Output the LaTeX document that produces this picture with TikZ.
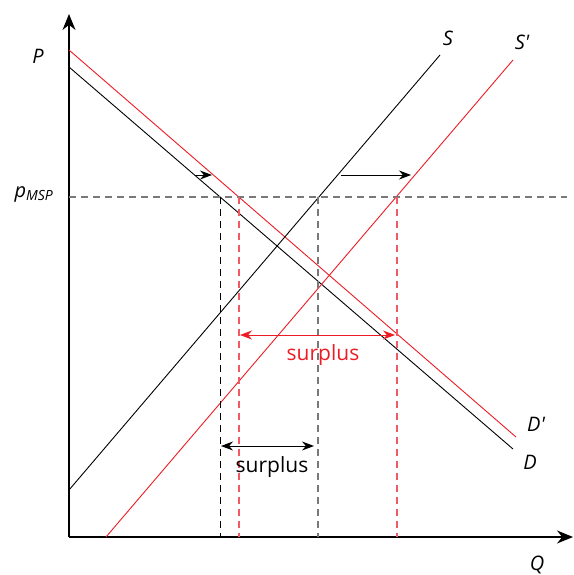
\documentclass[tikz,border=0pt]{standalone}
\usepackage{fontspec}
\setmainfont{Open Sans}
\usepackage{tikz}
\usetikzlibrary{arrows.meta}
\definecolor{curvered}{RGB}{237,28,36}
\definecolor{guidegray}{RGB}{120,120,120}
\definecolor{guidered}{RGB}{240,90,100}

\begin{document}
\begin{tikzpicture}[
  x=1pt, y=-1pt,
  axis/.style={line width=1.4pt, -{Stealth[length=16pt,width=13pt]}},
  curve/.style={line width=0.9pt},
  guide/.style={line width=1.4pt, dash pattern=on 6.5pt off 5.5pt},
  moveto/.style={line width=1pt, -{Stealth[length=12pt,width=9pt]}},
  span/.style={line width=1pt, {Stealth[length=12pt,width=9pt]}-{Stealth[length=12pt,width=9pt]}},
  lbl/.style={font=\fontsize{20}{24}\selectfont\itshape},
  txt/.style={font=\fontsize{21}{24}\selectfont},
]
\useasboundingbox (0,0) rectangle (573,575);

% axes
\coordinate (O) at (69,537);
\coordinate (ytop) at (69,14);
\coordinate (xend) at (573,537);
\draw[axis] (O) -- (ytop);
\draw[axis] (O) -- (xend);

% demand and supply
\coordinate (d0) at (69,67);
\coordinate (d1) at (513,449);
\coordinate (dd0) at (69,50);
\coordinate (dd1) at (516,437);
\coordinate (s0) at (69,490);
\coordinate (s1) at (440,55);
\coordinate (ss0) at (106,537);
\coordinate (ss1) at (513,60);
\draw[curve] (d0) -- (d1);
\draw[curve, curvered] (dd0) -- (dd1);
\draw[curve] (s0) -- (s1);
\draw[curve, curvered] (ss0) -- (ss1);

% price line and guides
\coordinate (pm) at (69,197);
\coordinate (pmend) at (567,197);
\draw[guide, guidegray] (pm) -- (pmend);
\coordinate (qd) at (220,197);
\coordinate (qdd) at (239,197);
\coordinate (qs) at (318,197);
\coordinate (qss) at (397,197);
\draw[guide, line width=0.9pt] (qd) -- (qd |- O);
\draw[guide, guidered, line width=1.1pt] (qdd) -- (qdd |- O);
\draw[guide, guidegray] (qs) -- (qs |- O);
\draw[guide, guidered, line width=1.1pt] (qss) -- (qss |- O);

% shifts
\coordinate (dsh0) at (195,175);
\coordinate (dsh1) at (212,175);
\coordinate (ssh0) at (341,175);
\coordinate (ssh1) at (411,175);
\draw[moveto] (dsh0) -- (dsh1);
\draw[moveto] (ssh0) -- (ssh1);

% surplus spans
\coordinate (r0) at (240,335);
\coordinate (r1) at (395,335);
\coordinate (b0) at (221,446);
\coordinate (b1) at (314,446);
\draw[span, curvered] (r0) -- (r1);
\draw[span] (b0) -- (b1);
\node[txt, text=curvered] (rsur) at (323,355) {surplus};
\node[txt] (bsur) at (272,467) {surplus};

% labels
\node[lbl] (lp) at (38,56) {P};
\node[lbl] (lpm) at (34,194) {p\textsubscript{MSP}};
\node[lbl] (ls) at (448,38) {S};
\node[lbl] (lss) at (522,42) {S\textquotesingle};
\node[lbl] (ldd) at (536,424) {D\textquotesingle};
\node[lbl] (ld) at (530,462) {D};
\node[lbl] (lq) at (537,565) {Q};
\end{tikzpicture}
\end{document}
